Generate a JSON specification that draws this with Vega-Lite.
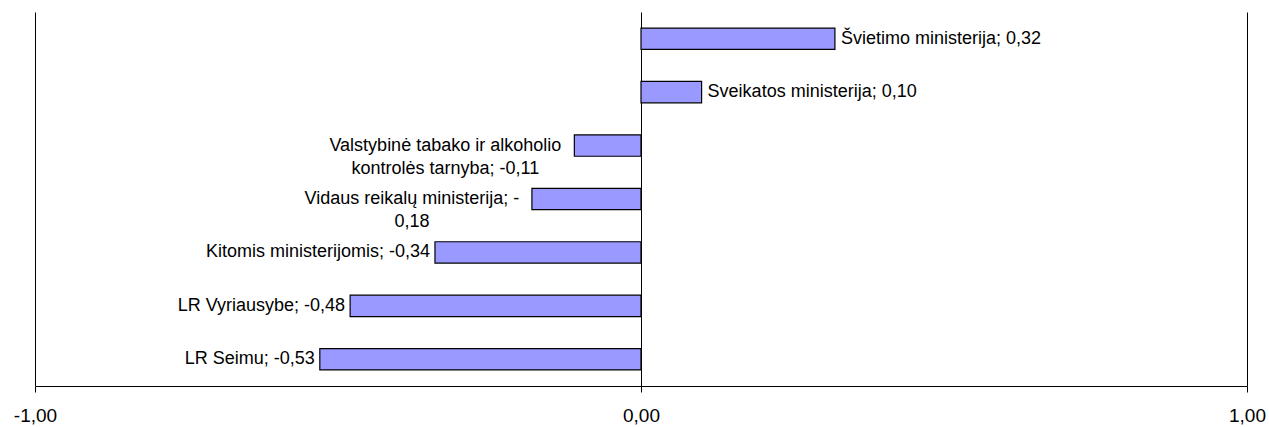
{
  "$schema": "https://vega.github.io/schema/vega-lite/v6.json",
  "width": 1212,
  "height": 374,
  "autosize": {"type": "none"},
  "padding": {"left": 35, "top": 12, "right": 22, "bottom": 41},
  "background": "white",
  "config": {"view": {"stroke": null}, "font": "Liberation Sans"},
  "data": {
    "values": [
      {"name": "Švietimo ministerija", "label": ["Švietimo ministerija; 0,32"], "value": 0.32, "kind": "pos"},
      {"name": "Sveikatos ministerija", "label": ["Sveikatos ministerija; 0,10"], "value": 0.10, "kind": "pos"},
      {"name": "Valstybinė tabako ir alkoholio kontrolės tarnyba", "label": ["Valstybinė tabako ir alkoholio", "kontrolės tarnyba; -0,11"], "value": -0.11, "kind": "multiA"},
      {"name": "Vidaus reikalų ministerija", "label": ["Vidaus reikalų ministerija; -", "0,18"], "value": -0.18, "kind": "multiB"},
      {"name": "Kitomis ministerijomis", "label": ["Kitomis ministerijomis; -0,34"], "value": -0.34, "kind": "neg"},
      {"name": "LR Vyriausybe", "label": ["LR Vyriausybe; -0,48"], "value": -0.48, "kind": "neg"},
      {"name": "LR Seimu", "label": ["LR Seimu; -0,53"], "value": -0.53, "kind": "neg"}
    ]
  },
  "encoding": {
    "y": {
      "field": "name",
      "type": "nominal",
      "sort": ["Švietimo ministerija", "Sveikatos ministerija", "Valstybinė tabako ir alkoholio kontrolės tarnyba", "Vidaus reikalų ministerija", "Kitomis ministerijomis", "LR Vyriausybe", "LR Seimu"],
      "scale": {"paddingInner": 0.6, "paddingOuter": 0.3},
      "axis": null
    },
    "x": {
      "field": "value",
      "type": "quantitative",
      "scale": {"domain": [-1, 1], "nice": false, "zero": false},
      "axis": {
        "title": null,
        "values": [-1, 0, 1],
        "labelExpr": "(datum.value < 0 ? '-' : '') + replace(format(abs(datum.value), '.2f'), '.', ',')",
        "grid": true,
        "gridColor": "#000000",
        "gridWidth": 1,
        "gridOpacity": 1,
        "domainColor": "#000000",
        "domainWidth": 1,
        "tickColor": "#000000",
        "tickSize": 6,
        "labelFontSize": 19,
        "labelColor": "#000000",
        "labelPadding": 14,
        "labelFont": "Liberation Sans",
        "labelFlush": false
      }
    }
  },
  "layer": [
    {
      "mark": {"type": "bar", "fill": "#9999FF", "stroke": "#000000", "strokeWidth": 1.2}
    },
    {
      "transform": [{"filter": "datum.kind === 'pos'"}],
      "mark": {"type": "text", "align": "left", "baseline": "middle", "dx": 6, "fontSize": 18, "color": "#000000"},
      "encoding": {"text": {"field": "label"}}
    },
    {
      "transform": [{"filter": "datum.kind === 'neg'"}],
      "mark": {"type": "text", "align": "right", "baseline": "middle", "dx": -5, "fontSize": 18, "color": "#000000"},
      "encoding": {"text": {"field": "label"}}
    },
    {
      "transform": [{"filter": "datum.kind === 'multiA'"}],
      "mark": {"type": "text", "align": "center", "baseline": "middle", "dx": -129, "fontSize": 18, "lineHeight": 23, "color": "#000000"},
      "encoding": {"text": {"field": "label"}}
    },
    {
      "transform": [{"filter": "datum.kind === 'multiB'"}],
      "mark": {"type": "text", "align": "center", "baseline": "middle", "dx": -120, "fontSize": 18, "lineHeight": 23, "color": "#000000"},
      "encoding": {"text": {"field": "label"}}
    }
  ]
}
